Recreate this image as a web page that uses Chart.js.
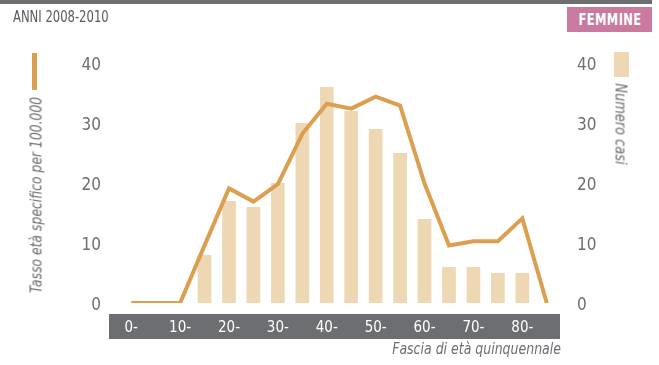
<!DOCTYPE html>
<html>
<head>
<meta charset="utf-8">
<script src="https://cdn.jsdelivr.net/npm/chart.js@4.4.0/dist/chart.umd.min.js"></script>
<style>
  html, body { margin: 0; padding: 0; background: #fff; }
  #wrap {
    position: relative; width: 659px; height: 365px; overflow: hidden;
    font-family: 'Liberation Sans Narrow', 'DejaVu Sans Condensed', 'Roboto', sans-serif;
  }
  #chart { position: absolute; left: 0; top: 0; }
  .topbar { position: absolute; left: 0; top: 0; width: 652px; height: 4px; background: #6d6e71; }
  .period {
    position: absolute; left: 13px; top: 8px; font-size: 15px; color: #58595b; white-space: nowrap;
    transform-origin: left center; transform: scaleX(0.86);
  }
  .tag {
    position: absolute; left: 567px; top: 7px; width: 85px; height: 25px;
    background: #c97a9e;
  }
  .tag span {
    position: absolute; left: 50%; top: 0; line-height: 25px; white-space: nowrap;
    color: #fff; font-weight: bold; font-size: 16px; letter-spacing: 0.5px;
    transform: translateX(-50%) scaleX(0.8);
  }
  .swatch { position: absolute; }
  .sw-line { left: 32px; top: 53px; width: 5px; height: 37px; background: #dc9f50; }
  .sw-bar { left: 614px; top: 52px; width: 15px; height: 25px; background: #eed8b4; }
  .vlabel {
    position: absolute; white-space: nowrap; font-style: italic; font-size: 16px; color: #6d6e71;
  }
  .vl-left { left: 36px; top: 195px; transform: translate(-50%, -50%) rotate(-90deg) scaleX(0.86); }
  .vl-right { left: 621px; top: 124px; transform: translate(-50%, -50%) rotate(90deg) scaleX(0.9); }
  .xtitle {
    position: absolute; right: 98px; top: 339px; font-style: italic; font-size: 16px;
    color: #6d6e71; white-space: nowrap;
    transform-origin: right center; transform: scaleX(0.87);
  }
</style>
</head>
<body>
<div id="wrap">
  <canvas id="chart" width="659" height="365"></canvas>
  <div class="topbar"></div>
  <div class="period">ANNI 2008-2010</div>
  <div class="tag"><span>FEMMINE</span></div>
  <div class="swatch sw-line"></div>
  <div class="vlabel vl-left">Tasso età specifico per 100.000</div>
  <div class="swatch sw-bar"></div>
  <div class="vlabel vl-right">Numero casi</div>
  <div class="xtitle">Fascia di età quinquennale</div>
</div>
<script>
// Five-year age bands
const ageGroups = ['0-', '5-', '10-', '15-', '20-', '25-', '30-', '35-', '40-',
                   '45-', '50-', '55-', '60-', '65-', '70-', '75-', '80-', '85-'];
// Number of cases per band (bars, right axis)
const caseCounts = [0, 0, 0, 8, 17, 16, 20, 30, 36, 32, 29, 25, 14, 6, 6, 5, 5, 0];
// Age-specific rate per 100,000 (line, left axis)
const ratePer100k = [0, 0, 0, 9.6, 19.1, 16.9, 19.8, 28.2, 33.2, 32.4, 34.4, 32.9,
                     19.9, 9.6, 10.3, 10.3, 14.1, 0];
// Value axis ticks
const yTicks = [0, 10, 20, 30, 40];

const FONT = "'Liberation Sans Narrow', 'DejaVu Sans Condensed', 'Roboto', sans-serif";
const GREY = '#6d6e71';

// Dark band behind the category labels
const axisBand = {
  id: 'axisBand',
  beforeDraw(chart) {
    const { ctx, chartArea } = chart;
    ctx.save();
    ctx.fillStyle = GREY;
    ctx.fillRect(chartArea.left - 10, chartArea.bottom + 11, chartArea.right - chartArea.left + 11, 25);
    ctx.restore();
  }
};

const valueAxis = (position) => ({
  position,
  min: yTicks[0],
  max: yTicks[yTicks.length - 1],
  afterBuildTicks: (s) => { s.ticks = yTicks.map(v => ({ value: v })); },
  afterFit: (s) => { s.width = 50; },
  grid: { display: false, drawTicks: false },
  border: { display: false },
  ticks: { color: GREY, padding: 18, labelOffset: 3, font: { family: FONT, size: 17 } }
});

new Chart(document.getElementById('chart'), {
  data: {
    labels: ageGroups,
    datasets: [
      {
        type: 'line',
        label: 'Tasso età specifico per 100.000',
        data: ratePer100k,
        yAxisID: 'y',
        borderColor: '#dc9f50',
        borderWidth: 4,
        borderJoinStyle: 'miter',
        pointRadius: 0,
        tension: 0,
        order: 0
      },
      {
        type: 'bar',
        label: 'Numero casi',
        data: caseCounts,
        yAxisID: 'y2',
        backgroundColor: '#eed8b4',
        categoryPercentage: 1,
        barPercentage: 0.56,
        order: 1
      }
    ]
  },
  options: {
    responsive: false,
    animation: false,
    layout: { padding: { left: 69, right: 50, top: 63, bottom: 22 } },
    plugins: { legend: { display: false }, tooltip: { enabled: false } },
    scales: {
      x: {
        offset: true,
        afterFit: (s) => { s.height = 40; },
        grid: { display: false, drawTicks: false },
        border: { display: false },
        ticks: {
          color: '#ffffff',
          padding: 16,
          autoSkip: false,
          maxRotation: 0,
          font: { family: FONT, size: 15 },
          callback: (v, i) => (i % 2 === 0 ? ageGroups[i] : '')
        }
      },
      y: valueAxis('left'),
      y2: valueAxis('right')
    }
  },
  plugins: [axisBand]
});
</script>
</body>
</html>
